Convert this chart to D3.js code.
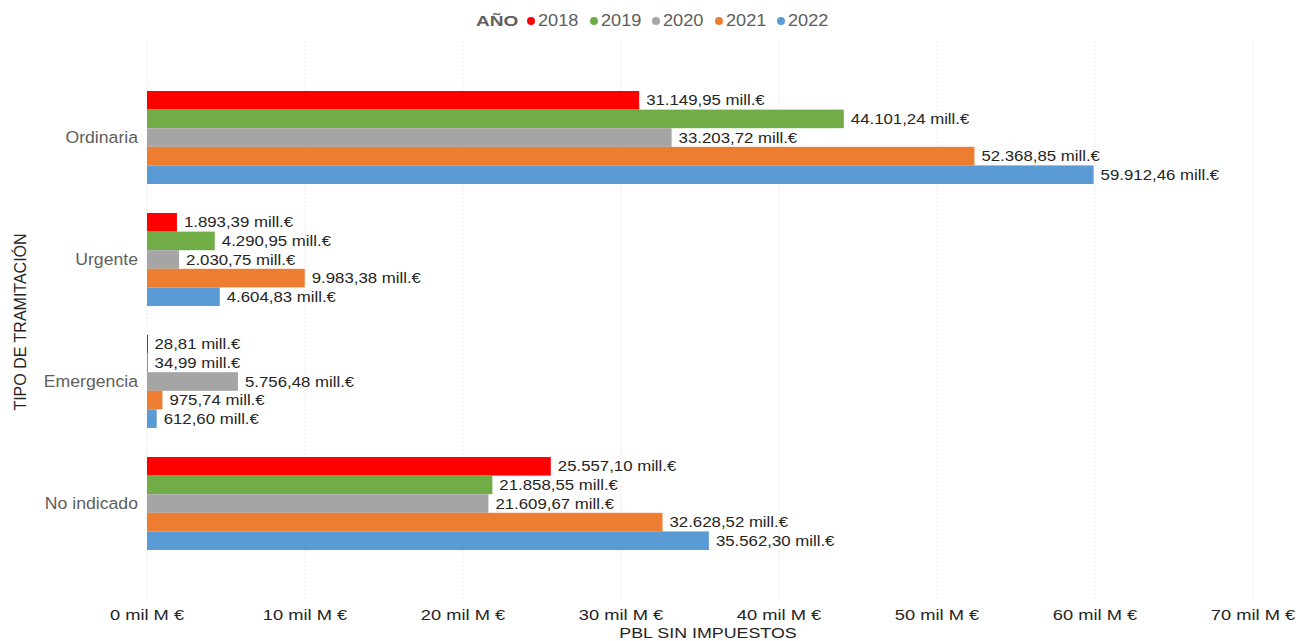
<!DOCTYPE html>
<html><head><meta charset="utf-8">
<script src="https://cdn.jsdelivr.net/npm/d3@7"></script>
<style>body{margin:0;background:#fff;}svg{display:block;font-family:"Liberation Sans",Arial,sans-serif;}</style>
</head><body>
<svg id="c" width="1310" height="641"></svg>
<script>
const categories = ["Ordinaria","Urgente","Emergencia","No indicado"];
const years = ["2018","2019","2020","2021","2022"];
const colors = ["#FF0000","#70AD47","#A5A5A5","#ED7D31","#5B9BD5"];
const v2018 = [31149.95, 1893.39, 28.81, 25557.10];
const v2019 = [44101.24, 4290.95, 34.99, 21858.55];
const v2020 = [33203.72, 2030.75, 5756.48, 21609.67];
const v2021 = [52368.85, 9983.38, 975.74, 32628.52];
const v2022 = [59912.46, 4604.83, 612.60, 35562.30];
const series = [v2018, v2019, v2020, v2021, v2022];
const tickValues = [0,10000,20000,30000,40000,50000,60000,70000];
const tickLabels = ["0 mil M €","10 mil M €","20 mil M €","30 mil M €","40 mil M €","50 mil M €","60 mil M €","70 mil M €"];

const svg = d3.select("#c");
const x = d3.scaleLinear().domain([0,70000]).range([147,1253]);
const y = d3.scaleBand().domain(categories).range([60.5,580.5]).paddingInner(0.2377).paddingOuter(0.25);
const y1 = d3.scaleBand().domain(years).range([0,y.bandwidth()]);

const fmt = v => {
  const s = v.toFixed(2).split(".");
  return s[0].replace(/\B(?=(\d{3})+(?!\d))/g,".") + "," + s[1] + " mill.€";
};

// helper: horizontally stretched text
function stext(parent, px, py, str, size, sx, anchor, fill, weight){
  return parent.append("text")
    .attr("transform",`translate(${px},${py}) scale(${sx},1)`)
    .attr("dy","0.36em").attr("text-anchor",anchor||"start")
    .attr("font-size",size).attr("fill",fill).attr("font-weight",weight||"normal").text(str);
}

// gridlines
svg.append("g").selectAll("line").data(tickValues).join("line")
  .attr("x1",d=>x(d)).attr("x2",d=>x(d)).attr("y1",42).attr("y2",600)
  .attr("stroke","#d6d6d6").attr("stroke-width",1).attr("stroke-dasharray","1,3");

// x tick labels
const tg = svg.append("g");
tickValues.forEach((d,i)=>stext(tg, x(d), 615, tickLabels[i], 15, 1.22, "middle", "#252423"));

// bars
categories.forEach((c,ci)=>{
  const g = svg.append("g").attr("transform",`translate(0,${y(c)})`);
  years.forEach((yr,si)=>{
    const v = series[si][ci];
    g.append("rect").attr("x",x(0)).attr("y",y1(yr))
      .attr("width",Math.max(x(v)-x(0),1)).attr("height",y1.bandwidth())
      .attr("fill",colors[si]);
    stext(g, x(v)+7, y1(yr)+y1.bandwidth()/2, fmt(v), 14, 1.2, "start", "#252423");
  });
});

// category labels
const cg = svg.append("g");
categories.forEach(c=>stext(cg, 138, y(c)+y.bandwidth()/2, c, 16.5, 1.07, "end", "#605E5C"));

// axis titles
svg.append("text").attr("transform","translate(20,322) rotate(-90)").attr("dy","0.36em").attr("text-anchor","middle")
  .attr("font-size",16).attr("fill","#252423").text("TIPO DE TRAMITACIÓN");
stext(svg, 708, 633, "PBL SIN IMPUESTOS", 15, 1.19, "middle", "#252423");

// legend
const lg = svg.append("g");
stext(lg, 476, 20, "AÑO", 15.5, 1.23, "start", "#605E5C", "bold");
const lx = [531,594,656,719,781];
years.forEach((yr,i)=>{
  lg.append("circle").attr("cx",lx[i]).attr("cy",21).attr("r",4).attr("fill",colors[i]);
  stext(lg, lx[i]+7, 20, yr, 16.5, 1.1, "start", "#605E5C");
});
</script>
</body></html>
